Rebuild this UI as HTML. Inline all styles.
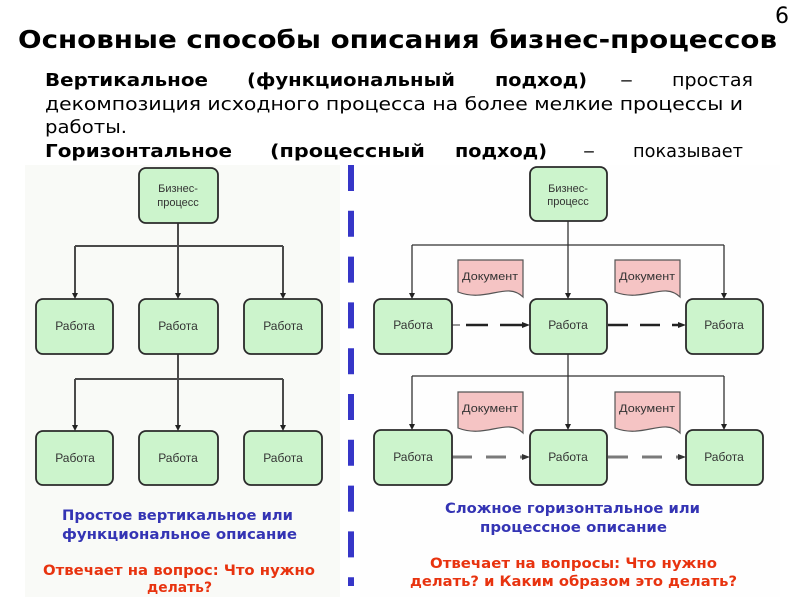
<!DOCTYPE html>
<html><head><meta charset="utf-8"><style>
html,body{margin:0;padding:0;background:#fff;}
svg{display:block;}
.t{font-family:"DejaVu Sans","Liberation Sans",sans-serif;}
.b{font-family:"Liberation Sans","DejaVu Sans",sans-serif;font-size:12px;fill:#333;}
.d{font-family:"Liberation Sans","DejaVu Sans",sans-serif;font-size:11px;fill:#333;}
</style></head><body>
<svg width="800" height="600" viewBox="0 0 800 600" xmlns="http://www.w3.org/2000/svg">
<rect width="800" height="600" fill="#fff"/>
<!-- header -->
<text class="t" x="775" y="23" font-size="22" fill="#000">6</text>
<text class="t" x="18" y="48" font-size="25" font-weight="bold" fill="#000" textLength="759" lengthAdjust="spacingAndGlyphs">Основные способы описания бизнес-процессов</text>

<g class="t" font-size="18" fill="#000">
<text x="45" y="86" font-weight="bold" textLength="163" lengthAdjust="spacingAndGlyphs">Вертикальное</text>
<text x="247" y="86" font-weight="bold" textLength="208" lengthAdjust="spacingAndGlyphs">(функциональный</text>
<text x="495" y="86" font-weight="bold" textLength="92" lengthAdjust="spacingAndGlyphs">подход)</text>
<text x="620" y="86" textLength="13" lengthAdjust="spacingAndGlyphs">–</text>
<text x="672" y="86" textLength="81" lengthAdjust="spacingAndGlyphs">простая</text>
<text x="45" y="110" textLength="698" lengthAdjust="spacingAndGlyphs">декомпозиция исходного процесса на более мелкие процессы и</text>
<text x="45" y="133" textLength="82" lengthAdjust="spacingAndGlyphs">работы.</text>
<text x="45" y="157" font-weight="bold" textLength="187" lengthAdjust="spacingAndGlyphs">Горизонтальное</text>
<text x="270" y="157" font-weight="bold" textLength="155" lengthAdjust="spacingAndGlyphs">(процессный</text>
<text x="455" y="157" font-weight="bold" textLength="92" lengthAdjust="spacingAndGlyphs">подход)</text>
<text x="583" y="157" textLength="12" lengthAdjust="spacingAndGlyphs">–</text>
<text x="633" y="157" textLength="110" lengthAdjust="spacingAndGlyphs">показывает</text>
</g>

<!-- panels -->
<rect x="25" y="165" width="315" height="432" fill="#f9faf7"/>
<rect x="360" y="165" width="420" height="432" fill="#fefefe"/>

<!-- divider -->
<line x1="351" y1="165" x2="351" y2="586" stroke="#3636c8" stroke-width="6" stroke-dasharray="26 19.8"/>

<!-- LEFT DIAGRAM lines -->
<g stroke="#4a4a4a" stroke-width="2" fill="none">
<line x1="178" y1="223" x2="178" y2="246"/>
<line x1="75" y1="246" x2="283" y2="246"/>
<line x1="75" y1="246" x2="75" y2="295"/>
<line x1="178" y1="246" x2="178" y2="295"/>
<line x1="283" y1="246" x2="283" y2="295"/>
<line x1="178" y1="354" x2="178" y2="379"/>
<line x1="75" y1="379" x2="283" y2="379"/>
<line x1="75" y1="379" x2="75" y2="427"/>
<line x1="178" y1="379" x2="178" y2="427"/>
<line x1="283" y1="379" x2="283" y2="427"/>
</g>
<g fill="#222">
<polygon points="72,293 78,293 75,299"/>
<polygon points="175,293 181,293 178,299"/>
<polygon points="280,293 286,293 283,299"/>
<polygon points="72,425 78,425 75,431"/>
<polygon points="175,425 181,425 178,431"/>
<polygon points="280,425 286,425 283,431"/>
</g>

<!-- RIGHT DIAGRAM lines -->
<g stroke="#333" stroke-width="1.3" fill="none">
<line x1="568" y1="221" x2="568" y2="245"/>
<line x1="412" y1="245" x2="724" y2="245"/>
<line x1="412" y1="245" x2="412" y2="295"/>
<line x1="568" y1="245" x2="568" y2="295"/>
<line x1="724" y1="245" x2="724" y2="295"/>
<line x1="568" y1="354" x2="568" y2="376"/>
<line x1="412" y1="376" x2="724" y2="376"/>
<line x1="412" y1="376" x2="412" y2="426"/>
<line x1="568" y1="376" x2="568" y2="426"/>
<line x1="724" y1="376" x2="724" y2="426"/>
</g>
<g fill="#222">
<polygon points="409,293 415,293 412,299"/>
<polygon points="565,293 571,293 568,299"/>
<polygon points="721,293 727,293 724,299"/>
<polygon points="409,424 415,424 412,430"/>
<polygon points="565,424 571,424 568,430"/>
<polygon points="721,424 727,424 724,430"/>
</g>

<!-- dashed arrows row 1 -->
<line x1="452" y1="325" x2="460" y2="325" stroke="#777" stroke-width="1.5"/>
<line x1="466" y1="325" x2="524" y2="325" stroke="#222" stroke-width="2.5" stroke-dasharray="22 12"/>
<polygon points="522,322 530,325 522,328" fill="#222"/>
<line x1="608" y1="325" x2="680" y2="325" stroke="#222" stroke-width="2.5" stroke-dasharray="20 12"/>
<polygon points="678,322 686,325 678,328" fill="#222"/>
<!-- dashed arrows row 2 -->
<line x1="452" y1="457" x2="524" y2="457" stroke="#7a7a7a" stroke-width="3" stroke-dasharray="20 14"/>
<polygon points="522,454 530,457 522,460" fill="#333"/>
<line x1="608" y1="457" x2="680" y2="457" stroke="#7a7a7a" stroke-width="3" stroke-dasharray="20 14"/>
<polygon points="678,454 686,457 678,460" fill="#333"/>

<!-- boxes -->
<g fill="#ccf4cc" stroke="#2a2a2a" stroke-width="1.8">
<rect x="139" y="168" width="79" height="55" rx="7"/>
<rect x="36" y="299" width="77" height="55" rx="7"/>
<rect x="139" y="299" width="79" height="55" rx="7"/>
<rect x="244" y="299" width="78" height="55" rx="7"/>
<rect x="36" y="431" width="77" height="54" rx="7"/>
<rect x="139" y="431" width="79" height="54" rx="7"/>
<rect x="244" y="431" width="78" height="54" rx="7"/>

<rect x="530" y="167" width="77" height="54" rx="7"/>
<rect x="374" y="299" width="78" height="55" rx="7"/>
<rect x="530" y="299" width="77" height="55" rx="7"/>
<rect x="686" y="299" width="77" height="55" rx="7"/>
<rect x="374" y="430" width="78" height="55" rx="7"/>
<rect x="530" y="430" width="77" height="55" rx="7"/>
<rect x="686" y="430" width="77" height="55" rx="7"/>
</g>

<!-- documents -->
<g fill="#f5c4c4" stroke="#555" stroke-width="1.2">
<path d="M458,260 H523 V297 C507,281 486,303 458,292 Z"/>
<path d="M615,260 H680 V297 C664,281 643,303 615,292 Z"/>
<path d="M458,392 H523 V433 C507,417 486,439 458,428 Z"/>
<path d="M615,392 H680 V433 C664,417 643,439 615,428 Z"/>
</g>
<g class="d" text-anchor="middle">
<text x="490" y="280" textLength="56" lengthAdjust="spacingAndGlyphs">Документ</text>
<text x="647" y="280" textLength="56" lengthAdjust="spacingAndGlyphs">Документ</text>
<text x="490" y="412" textLength="56" lengthAdjust="spacingAndGlyphs">Документ</text>
<text x="647" y="412" textLength="56" lengthAdjust="spacingAndGlyphs">Документ</text>
</g>

<!-- box texts -->
<g class="d" text-anchor="middle">
<text x="178" y="192">Бизнес-</text>
<text x="178" y="206">процесс</text>
<text x="568" y="192">Бизнес-</text>
<text x="568" y="205">процесс</text>
</g>
<g class="b" text-anchor="middle">
<text x="75" y="330">Работа</text>
<text x="178" y="330">Работа</text>
<text x="283" y="330">Работа</text>
<text x="75" y="462">Работа</text>
<text x="178" y="462">Работа</text>
<text x="283" y="462">Работа</text>
<text x="413" y="329">Работа</text>
<text x="568" y="329">Работа</text>
<text x="724" y="329">Работа</text>
<text x="413" y="461">Работа</text>
<text x="568" y="461">Работа</text>
<text x="724" y="461">Работа</text>
</g>

<!-- captions -->
<g class="t" font-size="14" font-weight="bold">
<text x="62" y="520" fill="#3434b4" textLength="231" lengthAdjust="spacingAndGlyphs">Простое вертикальное или</text>
<text x="62" y="539" fill="#3434b4" textLength="235" lengthAdjust="spacingAndGlyphs">функциональное описание</text>
<text x="43" y="575" fill="#e8330f" textLength="272" lengthAdjust="spacingAndGlyphs">Отвечает на вопрос: Что нужно</text>
<text x="147" y="592" fill="#e8330f" textLength="65" lengthAdjust="spacingAndGlyphs">делать?</text>

<text x="445" y="513" fill="#3434b4" textLength="255" lengthAdjust="spacingAndGlyphs">Сложное горизонтальное или</text>
<text x="480" y="532" fill="#3434b4" textLength="187" lengthAdjust="spacingAndGlyphs">процессное описание</text>
<text x="430" y="568" fill="#e8330f" textLength="287" lengthAdjust="spacingAndGlyphs">Отвечает на вопросы: Что нужно</text>
<text x="410" y="586" fill="#e8330f" textLength="327" lengthAdjust="spacingAndGlyphs">делать? и Каким образом это делать?</text>
</g>
</svg>
</body></html>
